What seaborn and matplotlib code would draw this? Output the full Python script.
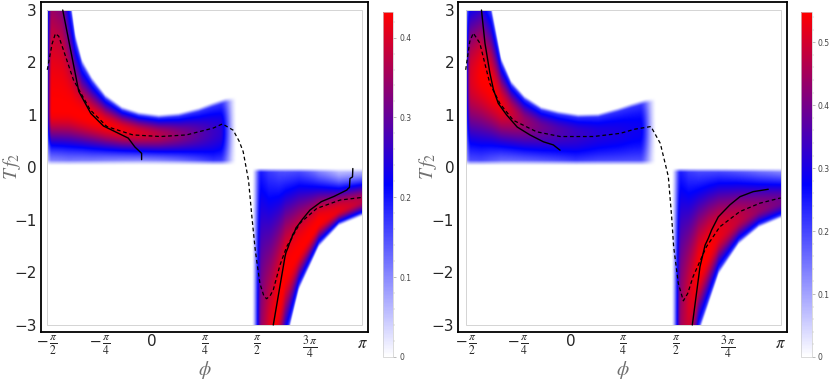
import numpy as np
import matplotlib
matplotlib.use('Agg')
import matplotlib.pyplot as plt
from matplotlib.colors import LinearSegmentedColormap
from matplotlib.patches import Rectangle
from matplotlib.ticker import MultipleLocator, FixedLocator
import seaborn as sns

sns.set_style("white")
plt.rcParams['font.family'] = ['DejaVu Sans']
plt.rcParams['mathtext.fontset'] = 'stix'

PI = np.pi

# ---------------- left panel ----------------
# band with Tf2 > 0 : peak position c, inner blue edge a, outer edge b, peak height p (fraction of colour max)
L_up_phi = [-1.60, -1.50, -1.35, -1.25, -1.15, -1.05, -0.90, -0.70, -0.45, -0.20, 0.10, 0.40, 0.70, 0.90, 1.10, 1.30]
L_up_c   = [1.10, 1.10, 1.10, 1.10, 1.05, 1.00, 0.93, 0.82, 0.72, 0.66, 0.62, 0.62, 0.64, 0.67, 0.70, 0.72]
L_up_a   = [0.42, 0.42, 0.41, 0.40, 0.39, 0.38, 0.36, 0.34, 0.32, 0.31, 0.30, 0.30, 0.30, 0.30, 0.30, 0.30]
L_up_b   = [5.00, 5.00, 4.50, 3.25, 2.40, 1.95, 1.63, 1.32, 1.10, 1.00, 0.95, 0.98, 1.07, 1.16, 1.24, 1.28]
L_up_p   = [1.00, 1.00, 1.00, 1.00, 1.00, 1.00, 1.00, 0.99, 0.97, 0.93, 0.86, 0.77, 0.68, 0.62, 0.57, 0.53]
# band with Tf2 < 0 (values of |Tf2|)
L_lo_phi = [1.55, 1.60, 1.75, 1.90, 2.00, 2.20, 2.50, 2.80, 3.14, 3.20]
L_lo_c   = [3.50, 3.50, 3.50, 2.60, 2.00, 1.60, 1.05, 0.82, 0.65, 0.65]
L_lo_a   = [0.35, 0.35, 0.60, 0.55, 0.45, 0.35, 0.37, 0.40, 0.33, 0.33]
L_lo_b   = [6.00, 6.00, 5.00, 3.95, 3.25, 2.25, 1.45, 1.06, 0.88, 0.88]
L_lo_p   = [0.75, 0.75, 0.95, 1.00, 1.00, 1.00, 1.00, 0.95, 0.86, 0.86]
L_vmax = 0.432

L_solid_up_phi = [-1.34, -1.10, -0.92, -0.73, -0.36, -0.26, -0.16, -0.16]
L_solid_up_T   = [3.00, 1.45, 1.03, 0.79, 0.56, 0.39, 0.27, 0.15]
L_solid_lo_phi = [1.81, 1.985, 2.00, 2.035, 2.05, 2.085, 2.10, 2.13, 2.15, 2.184, 2.25, 2.36, 2.53, 2.72, 2.91, 2.93, 2.95, 2.957, 2.995, 3.00]
L_solid_lo_T   = [-3.00, -1.70, -1.62, -1.51, -1.45, -1.35, -1.28, -1.22, -1.15, -1.095, -0.98, -0.81, -0.65, -0.55, -0.43, -0.40, -0.38, -0.21, -0.18, -0.02]
L_dash_phi = [-1.571, -1.50, -1.45, -1.40, -1.33, -1.18, -0.93, -0.68, -0.29, 0.12, 0.51, 0.91, 1.05, 1.21, 1.30, 1.36, 1.44,
              1.49, 1.54, 1.61, 1.67, 1.71, 1.76, 1.81, 1.91, 2.01, 2.21, 2.46, 2.81, 3.14]
L_dash_T   = [1.86, 2.35, 2.55, 2.50, 2.24, 1.67, 1.10, 0.78, 0.62, 0.59, 0.62, 0.75, 0.83, 0.71, 0.50, 0.30, -0.25,
              -0.94, -1.57, -2.21, -2.45, -2.50, -2.45, -2.33, -1.86, -1.51, -1.06, -0.78, -0.62, -0.57]

# ---------------- right panel ----------------
R_up_phi = [-1.60, -1.50, -1.35, -1.20, -1.05, -0.90, -0.70, -0.45, -0.20, 0.10, 0.40, 0.70, 0.90, 1.10, 1.30]
R_up_c   = [1.70, 1.70, 1.75, 1.50, 1.20, 1.05, 0.87, 0.76, 0.70, 0.65, 0.65, 0.67, 0.70, 0.72, 0.74]
R_up_a   = [0.45, 0.45, 0.42, 0.42, 0.40, 0.38, 0.35, 0.33, 0.32, 0.30, 0.30, 0.30, 0.30, 0.30, 0.30]
R_up_b   = [3.30, 3.30, 3.40, 2.95, 2.00, 1.58, 1.30, 1.10, 1.02, 0.96, 0.97, 1.07, 1.15, 1.22, 1.26]
R_up_p   = [0.93, 0.93, 1.00, 1.00, 0.97, 0.90, 0.80, 0.72, 0.66, 0.61, 0.57, 0.55, 0.53, 0.52, 0.50]
R_lo_phi = [1.55, 1.60, 1.75, 1.90, 2.05, 2.20, 2.50, 2.80, 3.14, 3.20]
R_lo_c   = [3.20, 3.20, 2.70, 2.00, 1.60, 1.30, 1.00, 0.80, 0.66, 0.66]
R_lo_a   = [0.35, 0.35, 0.50, 0.42, 0.35, 0.30, 0.30, 0.32, 0.33, 0.33]
R_lo_b   = [6.00, 6.00, 4.50, 3.05, 2.50, 1.95, 1.40, 1.09, 0.91, 0.91]
R_lo_p   = [0.78, 0.78, 0.92, 1.00, 1.00, 0.96, 0.88, 0.79, 0.72, 0.72]
R_vmax = 0.548

R_solid_up_phi = [-1.335, -1.283, -1.208, -1.155, -1.083, -0.958, -0.80, -0.609, -0.41, -0.26, -0.16]
R_solid_up_T   = [3.00, 2.37, 1.79, 1.48, 1.22, 1.00, 0.77, 0.62, 0.49, 0.43, 0.33]
R_solid_lo_phi = [1.819, 1.934, 2.01, 2.058, 2.108, 2.208, 2.383, 2.532, 2.73, 2.955]
R_solid_lo_T   = [-3.00, -1.89, -1.48, -1.35, -1.19, -0.94, -0.71, -0.556, -0.46, -0.415]
R_dash_phi = [-1.571, -1.51, -1.457, -1.36, -1.21, -1.06, -0.86, -0.51, -0.16, 0.34, 0.74, 0.96, 1.20, 1.34, 1.46,
              1.51, 1.54, 1.61, 1.685, 1.75, 1.83, 2.03, 2.23, 2.53, 2.83, 3.14]
R_dash_T   = [1.86, 2.40, 2.56, 2.37, 1.60, 1.22, 0.90, 0.68, 0.59, 0.59, 0.65, 0.73, 0.78, 0.46, -0.17,
              -0.94, -1.51, -2.21, -2.54, -2.40, -2.08, -1.51, -1.13, -0.84, -0.68, -0.58]

x_ticks = [-PI / 2, -PI / 4, 0, PI / 4, PI / 2, 3 * PI / 4, PI]
x_ticklabels = [r'$-\,\frac{\pi}{2}$', r'$-\,\frac{\pi}{4}$', '0', r'$\frac{\pi}{4}$',
                r'$\frac{\pi}{2}$', r'$\frac{3\,\pi}{4}$', r'$\pi$']

cmap = LinearSegmentedColormap.from_list('wbr', [(0, (1, 1, 1)), (0.5, (0, 0, 1)), (1, (1, 0, 0))])


def smooth(x, lo, hi):
    s = np.clip((x - lo) / (hi - lo), 0, 1)
    return s * s * (3 - 2 * s)


def profile(phi, t, nphi, nc, na, nb, npk):
    c = np.interp(phi, nphi, nc)
    a = np.interp(phi, nphi, na)
    b = np.interp(phi, nphi, nb)
    p = np.interp(phi, nphi, npk)
    # inner side: pure blue (half of colour max) at a; outer side: light blue at the edge b
    w_in = (c - a) / np.sqrt(np.maximum(np.log2(2 * p), 0.3))
    w_out = (b - c) / np.sqrt(np.maximum(np.log2(p / 0.4), 0.3))
    w = np.where(t < c, w_in, w_out)
    g = np.exp(-np.log(2) * ((t - c) / w) ** 2)
    # sharp outer edge of the band
    g *= 1 - smooth(t, b - 0.02, b + 0.12 * (b - c) + 0.04)
    return p * g


def density(up, lo, vmax):
    phi = np.linspace(-PI / 2, PI, 600)
    T = np.linspace(-3, 3, 600)
    P, TT = np.meshgrid(phi, T)
    z_up = profile(P, TT, *up) * np.clip((TT - 0.04) / 0.1, 0, 1)
    z_up *= smooth(P, -1.63, -1.50) * (1 - smooth(P, 1.02, 1.28))
    z_lo = profile(P, -TT, *lo) * np.clip((-TT - 0.01) / 0.08, 0, 1)
    z_lo *= smooth(P, 1.49, 1.64)
    return vmax * np.where(TT > 0, z_up, z_lo)


def panel(ax_rect, cb_rect, xlim, up, lo, vmax, solids, dash, cticks, ylab_x):
    ax = fig.add_axes(ax_rect)
    Z = density(up, lo, vmax)
    im = ax.imshow(Z, origin='lower', extent=[-PI / 2, PI, -3, 3], cmap=cmap,
                   vmin=0, vmax=vmax, aspect='auto', interpolation='bilinear', zorder=1)
    ax.add_patch(Rectangle((-PI / 2, -3), 1.5 * PI, 6, fill=False, ec='#d4d4d4', lw=0.7, zorder=2))
    for sx, sy in solids:
        sns.lineplot(x=sx, y=sy, sort=False, estimator=None, color='black', lw=1.0, ax=ax, zorder=3)
    sns.lineplot(x=dash[0], y=dash[1], sort=False, estimator=None, color='black', lw=0.9,
                 linestyle=(0, (3, 2.2)), ax=ax, zorder=3)
    ax.set_xlim(*xlim)
    ax.set_ylim(-3.128, 3.158)
    ax.xaxis.set_major_locator(FixedLocator(x_ticks))
    ax.set_xticklabels(x_ticklabels)
    for lab in ax.get_xticklabels():
        lab.set_fontsize(11 if lab.get_text() == '0' else 12)
    ax.yaxis.set_major_locator(FixedLocator([-3, -2, -1, 0, 1, 2, 3]))
    ax.yaxis.set_minor_locator(MultipleLocator(0.2))
    ax.tick_params(which='both', direction='in', top=False, right=False, color='black')
    ax.tick_params(which='major', length=5, width=0.8, pad=3)
    ax.tick_params(axis='x', which='major', pad=1.5)
    ax.tick_params(axis='y', which='major', labelsize=11)
    ax.tick_params(which='minor', length=2.5, width=0.6)
    for s in ax.spines.values():
        s.set_color('black')
        s.set_linewidth(1.3)
    ax.set_xlabel(r'$\phi$', fontsize=14, color='#707070', va='center')
    ax.xaxis.set_label_coords(0.5, -0.115)
    ax.set_ylabel(r'$T\,f_2$', fontsize=14, color='#707070', va='center')
    ax.yaxis.set_label_coords(ylab_x, 0.5)

    cax = fig.add_axes(cb_rect)
    cb = fig.colorbar(im, cax=cax)
    cb.set_ticks(cticks)
    cb.set_ticklabels(['0' if v == 0 else f'{v:g}' for v in cticks])
    cb.ax.yaxis.set_minor_locator(MultipleLocator(0.02))
    cb.ax.tick_params(which='major', length=2.5, width=0.4, color='#888888', labelsize=5.5,
                      labelcolor='#444444', pad=2)
    cb.ax.tick_params(which='minor', length=1.5, width=0.3, color='#aaaaaa')
    cb.outline.set_edgecolor('#cccccc')
    cb.outline.set_linewidth(0.5)
    return ax


W, H = 830, 380
fig = plt.figure(figsize=(8.3, 3.8), dpi=100)

panel([40.7 / W, 48.3 / H, 327.3 / W, 330.0 / H], [382.7 / W, 23 / H, 10.6 / W, 345 / H],
      (-1.6695, 3.227),
      (L_up_phi, L_up_c, L_up_a, L_up_b, L_up_p), (L_lo_phi, L_lo_c, L_lo_a, L_lo_b, L_lo_p),
      L_vmax, [(L_solid_up_phi, L_solid_up_T), (L_solid_lo_phi, L_solid_lo_T)],
      (L_dash_phi, L_dash_T), [0, 0.1, 0.2, 0.3, 0.4], -0.088)

panel([458.3 / W, 48.3 / H, 328.4 / W, 330.0 / H], [800.7 / W, 23 / H, 11.0 / W, 345 / H],
      (-1.6815, 3.231),
      (R_up_phi, R_up_c, R_up_a, R_up_b, R_up_p), (R_lo_phi, R_lo_c, R_lo_a, R_lo_b, R_lo_p),
      R_vmax, [(R_solid_up_phi, R_solid_up_T), (R_solid_lo_phi, R_solid_lo_T)],
      (R_dash_phi, R_dash_T), [0, 0.1, 0.2, 0.3, 0.4, 0.5], -0.092)

fig.savefig('out.png', dpi=100)
